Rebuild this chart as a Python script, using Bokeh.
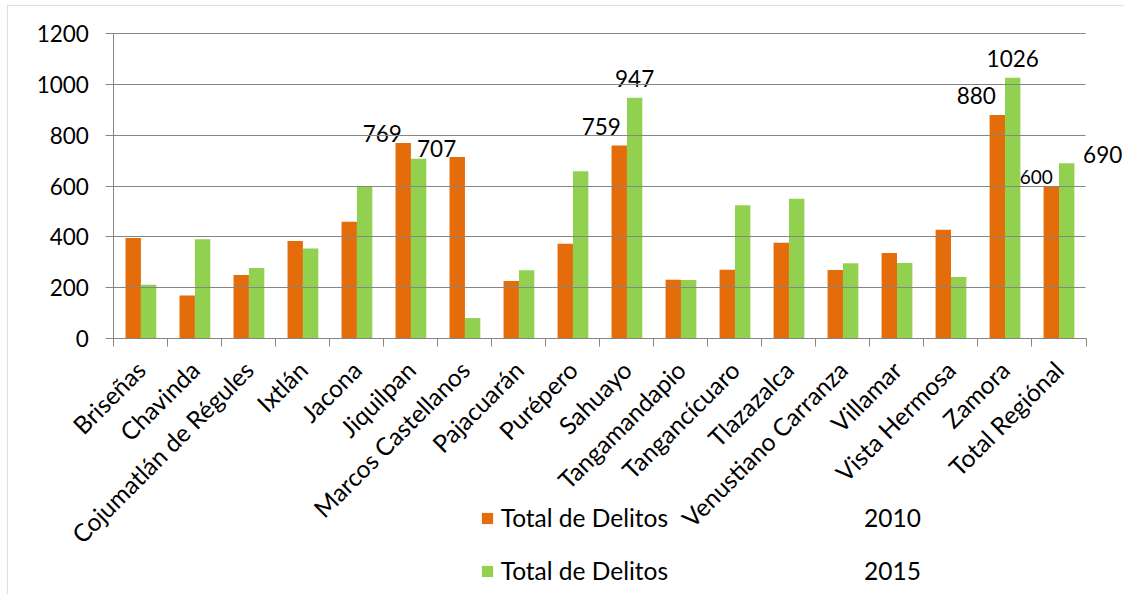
from bokeh.plotting import figure
from bokeh.models import (ColumnDataSource, FixedTicker, Legend, LegendItem,
                          Range1d, BoxAnnotation)
from bokeh.core.properties import value
from bokeh.embed import file_html
from bokeh.resources import INLINE

# ---------------- data ----------------
municipios = ["Briseñas", "Chavinda", "Cojumatlán de Régules", "Ixtlán", "Jacona",
              "Jiquilpan", "Marcos Castellanos", "Pajacuarán", "Purépero", "Sahuayo",
              "Tangamandapio", "Tangancícuaro", "Tlazazalca", "Venustiano Carranza",
              "Villamar", "Vista Hermosa", "Zamora", "Total Regiónal"]
delitos_2010 = [395, 169, 250, 383, 459, 769, 714, 226, 373, 759, 231, 270, 377,
                269, 336, 428, 880, 600]
delitos_2015 = [211, 390, 277, 354, 597, 707, 80, 268, 658, 947, 230, 524, 550,
                296, 297, 242, 1026, 690]
y_ticks = [0, 200, 400, 600, 800, 1000, 1200]
serie_nombre = "Total de Delitos"
anios = ["2010", "2015"]
# categories that carry data labels
etiquetadas = ["Jiquilpan", "Sahuayo", "Zamora", "Total Regiónal"]

# ---------------- layout / styling ----------------
W, H = 1124, 594
PLOT_L, PLOT_R, PLOT_T, PLOT_B = 113.4, 1085.5, 33.1, 337.9
FONT = "Lato"
ORANGE = "#E46C0A"
GREEN = "#92D050"
GRID = "#868686"
BAR_W = 0.285
dx_2010 = [-21, -18, -21, -15]
dy_2010 = [-10, -19, -19, -9]
sz_2010 = ["22.5px", "22.5px", "22.5px", "19px"]
dx_2015 = [18, 0, 0, 36]
dy_2015 = [-10, -19, -19, -9]
sz_2015 = ["22.5px", "22.5px", "22.5px", "22.5px"]
LEG_X = 479.7
LEG_Y = [62, 9]

n = len(municipios)
idx = list(range(n))
cat_px = (PLOT_R - PLOT_L) / n
x_start = -0.5 - PLOT_L / cat_px
x_end = n - 0.5 + (W - PLOT_R) / cat_px
y_max = y_ticks[-1]
upx = y_max / (PLOT_B - PLOT_T)
y_start = -(H - PLOT_B) * upx
y_end = y_max + PLOT_T * upx

p = figure(width=W, height=H, output_backend="svg", toolbar_location=None,
           x_range=Range1d(x_start, x_end), y_range=Range1d(y_start, y_end),
           min_border=0)
p.outline_line_color = None
p.background_fill_color = "white"
p.border_fill_color = "white"
p.grid.visible = False

# outer chart-area border (only top/left edges fall inside the picture)
p.add_layout(BoxAnnotation(left=6.9, right=W + 20, bottom=-20, top=H - 4.9,
                           left_units="screen", right_units="screen",
                           top_units="screen", bottom_units="screen",
                           fill_alpha=0, line_color="#8c8c8c", line_width=1))

src_a = ColumnDataSource(dict(x=[i - BAR_W / 2 for i in idx], top=delitos_2010))
src_b = ColumnDataSource(dict(x=[i + BAR_W / 2 for i in idx], top=delitos_2015))
r_a = p.vbar(x="x", top="top", width=BAR_W, source=src_a, fill_color=ORANGE,
             line_color=None)
r_b = p.vbar(x="x", top="top", width=BAR_W, source=src_b, fill_color=GREEN,
             line_color=None)

# data labels
li = [municipios.index(m) for m in etiquetadas]
lab_a = ColumnDataSource(dict(
    x=[i - BAR_W / 2 for i in li], y=[delitos_2010[i] for i in li],
    t=[str(delitos_2010[i]) for i in li], dx=dx_2010, dy=dy_2010, s=sz_2010))
lab_b = ColumnDataSource(dict(
    x=[i + BAR_W / 2 for i in li], y=[delitos_2015[i] for i in li],
    t=[str(delitos_2015[i]) for i in li], dx=dx_2015, dy=dy_2015, s=sz_2015))
for src in (lab_a, lab_b):
    p.text(x="x", y="y", text="t", x_offset="dx", y_offset="dy", source=src,
           text_font=value(FONT), text_font_size="s", text_color="black",
           text_align="center", text_baseline="alphabetic")

# y axis (its inward ticks act as the horizontal gridlines)
ya = p.yaxis[0]
ya.fixed_location = -0.5
ya.bounds = (0, y_max)
ya.ticker = FixedTicker(ticks=y_ticks)
ya.axis_line_color = GRID
ya.major_tick_line_color = GRID
ya.major_tick_out = 8
ya.major_tick_in = int(round(PLOT_R - PLOT_L))
ya.minor_tick_line_color = None
ya.major_label_standoff = 17
ya.major_label_text_font = FONT
ya.major_label_text_font_size = "22.5px"
ya.major_label_text_color = "black"

# x axis: labels at category centres, tick marks at category boundaries
xa = p.xaxis[0]
xa.fixed_location = 0
xa.bounds = (-0.5, n - 0.5)
xa.ticker = FixedTicker(ticks=idx, minor_ticks=[i - 0.5 for i in range(n + 1)])
xa.major_label_overrides = {i: m for i, m in zip(idx, municipios)}
xa.axis_line_color = GRID
xa.major_tick_line_color = None
xa.major_tick_out = 8
xa.major_tick_in = 0
xa.minor_tick_line_color = GRID
xa.minor_tick_out = 8
xa.minor_tick_in = 0
xa.major_label_orientation = 0.785398
xa.major_label_standoff = 19
xa.major_label_text_font = FONT
xa.major_label_text_font_size = "24.5px"
xa.major_label_text_color = "black"

# legend: one row per series, placed under the axis like the original
gap = "\u2003" * 10 + "\u2002"
for r, anio, ly in zip((r_a, r_b), anios, LEG_Y):
    lg = Legend(items=[LegendItem(label=serie_nombre + gap + anio, renderers=[r])],
                location=(LEG_X, ly))
    lg.label_text_font = FONT
    lg.label_text_font_size = "24.5px"
    lg.label_text_color = "black"
    lg.glyph_width = 14
    lg.glyph_height = 14
    lg.label_height = 20
    lg.padding = 0
    lg.margin = 0
    lg.label_standoff = 7
    lg.border_line_color = None
    lg.background_fill_alpha = 0
    p.add_layout(lg, "center")

open("out.html", "w").write(file_html(p, INLINE))
